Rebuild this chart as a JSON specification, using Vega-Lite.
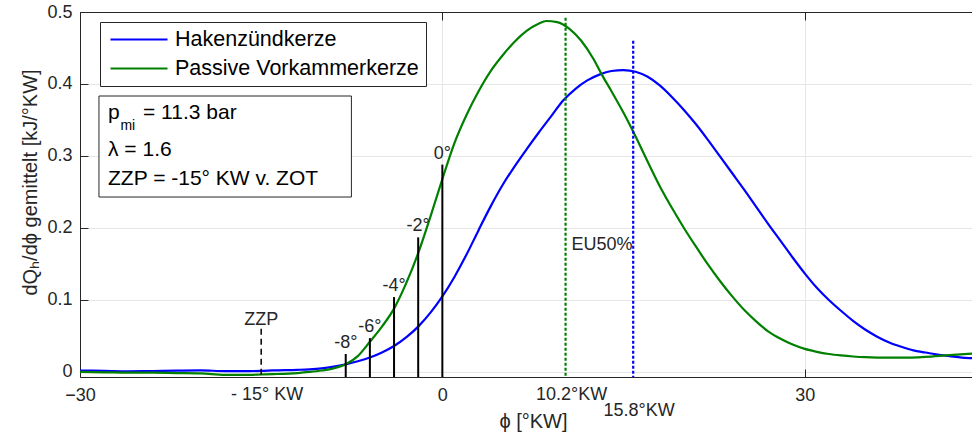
{
  "$schema": "https://vega.github.io/schema/vega-lite/v6.json",
  "width": 892,
  "height": 365,
  "autosize": {"type": "none"},
  "padding": {"left": 80, "top": 12, "right": 0, "bottom": 59},
  "background": "white",
  "config": {
    "font": "Liberation Sans",
    "view": {"stroke": null},
    "axis": {
      "domainColor": "#262626",
      "domainWidth": 1,
      "tickColor": "#262626",
      "tickSize": -8,
      "labelColor": "#262626",
      "labelFontSize": 18,
      "titleColor": "#262626",
      "titleFontSize": 20,
      "titleFontWeight": "normal",
      "gridColor": "#e6e6e6",
      "gridWidth": 1
    },
    "legend": {
      "orient": "none",
      "legendX": 20,
      "legendY": 10,
      "direction": "vertical",
      "strokeColor": "#262626",
      "fillColor": "white",
      "padding": 7,
      "cornerRadius": 0,
      "symbolType": "stroke",
      "symbolSize": 3249,
      "symbolStrokeWidth": 2.2,
      "symbolOffset": 2,
      "clipHeight": 21,
      "labelFontSize": 21.5,
      "labelColor": "black",
      "labelOffset": 6,
      "labelLimit": 400,
      "rowPadding": 7
    }
  },
  "datasets": {
    "curves": [
      {"series": "Hakenzündkerze", "phi": -30, "dq": 0.002},
      {"series": "Hakenzündkerze", "phi": -28, "dq": 0.0015},
      {"series": "Hakenzündkerze", "phi": -26, "dq": 0.001},
      {"series": "Hakenzündkerze", "phi": -24, "dq": 0.0012},
      {"series": "Hakenzündkerze", "phi": -22, "dq": 0.0018},
      {"series": "Hakenzündkerze", "phi": -20, "dq": 0.0022},
      {"series": "Hakenzündkerze", "phi": -18, "dq": 0.0012},
      {"series": "Hakenzündkerze", "phi": -16, "dq": 0.0012},
      {"series": "Hakenzündkerze", "phi": -15, "dq": 0.0015},
      {"series": "Hakenzündkerze", "phi": -14, "dq": 0.0022},
      {"series": "Hakenzündkerze", "phi": -12, "dq": 0.003},
      {"series": "Hakenzündkerze", "phi": -11, "dq": 0.0037},
      {"series": "Hakenzündkerze", "phi": -10, "dq": 0.005},
      {"series": "Hakenzündkerze", "phi": -9, "dq": 0.0073},
      {"series": "Hakenzündkerze", "phi": -8, "dq": 0.0106},
      {"series": "Hakenzündkerze", "phi": -7, "dq": 0.0148},
      {"series": "Hakenzündkerze", "phi": -6, "dq": 0.02},
      {"series": "Hakenzündkerze", "phi": -5, "dq": 0.027},
      {"series": "Hakenzündkerze", "phi": -4, "dq": 0.036},
      {"series": "Hakenzündkerze", "phi": -3, "dq": 0.048},
      {"series": "Hakenzündkerze", "phi": -2, "dq": 0.063},
      {"series": "Hakenzündkerze", "phi": -1, "dq": 0.082},
      {"series": "Hakenzündkerze", "phi": 0, "dq": 0.105},
      {"series": "Hakenzündkerze", "phi": 1, "dq": 0.132},
      {"series": "Hakenzündkerze", "phi": 2, "dq": 0.163},
      {"series": "Hakenzündkerze", "phi": 3, "dq": 0.197},
      {"series": "Hakenzündkerze", "phi": 4, "dq": 0.23},
      {"series": "Hakenzündkerze", "phi": 5, "dq": 0.26},
      {"series": "Hakenzündkerze", "phi": 6, "dq": 0.286},
      {"series": "Hakenzündkerze", "phi": 7, "dq": 0.31},
      {"series": "Hakenzündkerze", "phi": 8, "dq": 0.333},
      {"series": "Hakenzündkerze", "phi": 9, "dq": 0.355},
      {"series": "Hakenzündkerze", "phi": 10, "dq": 0.377},
      {"series": "Hakenzündkerze", "phi": 11, "dq": 0.393},
      {"series": "Hakenzündkerze", "phi": 12, "dq": 0.405},
      {"series": "Hakenzündkerze", "phi": 13, "dq": 0.413},
      {"series": "Hakenzündkerze", "phi": 14, "dq": 0.418},
      {"series": "Hakenzündkerze", "phi": 15, "dq": 0.4194},
      {"series": "Hakenzündkerze", "phi": 16, "dq": 0.417},
      {"series": "Hakenzündkerze", "phi": 17, "dq": 0.41},
      {"series": "Hakenzündkerze", "phi": 18, "dq": 0.398},
      {"series": "Hakenzündkerze", "phi": 19, "dq": 0.382},
      {"series": "Hakenzündkerze", "phi": 20, "dq": 0.364},
      {"series": "Hakenzündkerze", "phi": 21, "dq": 0.344},
      {"series": "Hakenzündkerze", "phi": 22, "dq": 0.322},
      {"series": "Hakenzündkerze", "phi": 23, "dq": 0.299},
      {"series": "Hakenzündkerze", "phi": 24, "dq": 0.276},
      {"series": "Hakenzündkerze", "phi": 25, "dq": 0.253},
      {"series": "Hakenzündkerze", "phi": 26, "dq": 0.229},
      {"series": "Hakenzündkerze", "phi": 27, "dq": 0.205},
      {"series": "Hakenzündkerze", "phi": 28, "dq": 0.182},
      {"series": "Hakenzündkerze", "phi": 29, "dq": 0.159},
      {"series": "Hakenzündkerze", "phi": 30, "dq": 0.137},
      {"series": "Hakenzündkerze", "phi": 31, "dq": 0.117},
      {"series": "Hakenzündkerze", "phi": 32, "dq": 0.1},
      {"series": "Hakenzündkerze", "phi": 33, "dq": 0.085},
      {"series": "Hakenzündkerze", "phi": 34, "dq": 0.071},
      {"series": "Hakenzündkerze", "phi": 35, "dq": 0.059},
      {"series": "Hakenzündkerze", "phi": 36, "dq": 0.049},
      {"series": "Hakenzündkerze", "phi": 37, "dq": 0.041},
      {"series": "Hakenzündkerze", "phi": 38, "dq": 0.035},
      {"series": "Hakenzündkerze", "phi": 39, "dq": 0.03},
      {"series": "Hakenzündkerze", "phi": 40, "dq": 0.027},
      {"series": "Hakenzündkerze", "phi": 41, "dq": 0.024},
      {"series": "Hakenzündkerze", "phi": 42, "dq": 0.022},
      {"series": "Hakenzündkerze", "phi": 43, "dq": 0.02},
      {"series": "Hakenzündkerze", "phi": 44, "dq": 0.019},
      {"series": "Hakenzündkerze", "phi": 45, "dq": 0.018},
      {"series": "Passive Vorkammerkerze", "phi": -30, "dq": 0.0},
      {"series": "Passive Vorkammerkerze", "phi": -28, "dq": -0.0005},
      {"series": "Passive Vorkammerkerze", "phi": -26, "dq": -0.001},
      {"series": "Passive Vorkammerkerze", "phi": -24, "dq": -0.001},
      {"series": "Passive Vorkammerkerze", "phi": -22, "dq": -0.0015},
      {"series": "Passive Vorkammerkerze", "phi": -20, "dq": -0.002},
      {"series": "Passive Vorkammerkerze", "phi": -18, "dq": -0.004},
      {"series": "Passive Vorkammerkerze", "phi": -16, "dq": -0.004},
      {"series": "Passive Vorkammerkerze", "phi": -15, "dq": -0.0035},
      {"series": "Passive Vorkammerkerze", "phi": -14, "dq": -0.003},
      {"series": "Passive Vorkammerkerze", "phi": -12, "dq": -0.0015},
      {"series": "Passive Vorkammerkerze", "phi": -11, "dq": 0.0},
      {"series": "Passive Vorkammerkerze", "phi": -10, "dq": 0.002},
      {"series": "Passive Vorkammerkerze", "phi": -9, "dq": 0.005},
      {"series": "Passive Vorkammerkerze", "phi": -8, "dq": 0.0106},
      {"series": "Passive Vorkammerkerze", "phi": -7, "dq": 0.022},
      {"series": "Passive Vorkammerkerze", "phi": -6, "dq": 0.042},
      {"series": "Passive Vorkammerkerze", "phi": -5, "dq": 0.063},
      {"series": "Passive Vorkammerkerze", "phi": -4, "dq": 0.088},
      {"series": "Passive Vorkammerkerze", "phi": -3, "dq": 0.123},
      {"series": "Passive Vorkammerkerze", "phi": -2, "dq": 0.165},
      {"series": "Passive Vorkammerkerze", "phi": -1, "dq": 0.215},
      {"series": "Passive Vorkammerkerze", "phi": 0, "dq": 0.268},
      {"series": "Passive Vorkammerkerze", "phi": 1, "dq": 0.318},
      {"series": "Passive Vorkammerkerze", "phi": 2, "dq": 0.357},
      {"series": "Passive Vorkammerkerze", "phi": 3, "dq": 0.39},
      {"series": "Passive Vorkammerkerze", "phi": 4, "dq": 0.418},
      {"series": "Passive Vorkammerkerze", "phi": 5, "dq": 0.44},
      {"series": "Passive Vorkammerkerze", "phi": 6, "dq": 0.459},
      {"series": "Passive Vorkammerkerze", "phi": 7, "dq": 0.474},
      {"series": "Passive Vorkammerkerze", "phi": 8, "dq": 0.484},
      {"series": "Passive Vorkammerkerze", "phi": 8.6, "dq": 0.4875},
      {"series": "Passive Vorkammerkerze", "phi": 9.5, "dq": 0.486},
      {"series": "Passive Vorkammerkerze", "phi": 10.5, "dq": 0.477},
      {"series": "Passive Vorkammerkerze", "phi": 11.5, "dq": 0.46},
      {"series": "Passive Vorkammerkerze", "phi": 12.5, "dq": 0.435},
      {"series": "Passive Vorkammerkerze", "phi": 13.2, "dq": 0.413},
      {"series": "Passive Vorkammerkerze", "phi": 14, "dq": 0.39},
      {"series": "Passive Vorkammerkerze", "phi": 15, "dq": 0.36},
      {"series": "Passive Vorkammerkerze", "phi": 16, "dq": 0.327},
      {"series": "Passive Vorkammerkerze", "phi": 17, "dq": 0.292},
      {"series": "Passive Vorkammerkerze", "phi": 18, "dq": 0.258},
      {"series": "Passive Vorkammerkerze", "phi": 19, "dq": 0.228},
      {"series": "Passive Vorkammerkerze", "phi": 20, "dq": 0.2},
      {"series": "Passive Vorkammerkerze", "phi": 21, "dq": 0.174},
      {"series": "Passive Vorkammerkerze", "phi": 22, "dq": 0.149},
      {"series": "Passive Vorkammerkerze", "phi": 23, "dq": 0.126},
      {"series": "Passive Vorkammerkerze", "phi": 24, "dq": 0.105},
      {"series": "Passive Vorkammerkerze", "phi": 25, "dq": 0.086},
      {"series": "Passive Vorkammerkerze", "phi": 26, "dq": 0.07},
      {"series": "Passive Vorkammerkerze", "phi": 27, "dq": 0.056},
      {"series": "Passive Vorkammerkerze", "phi": 28, "dq": 0.046},
      {"series": "Passive Vorkammerkerze", "phi": 29, "dq": 0.038},
      {"series": "Passive Vorkammerkerze", "phi": 30, "dq": 0.032},
      {"series": "Passive Vorkammerkerze", "phi": 31, "dq": 0.028},
      {"series": "Passive Vorkammerkerze", "phi": 32, "dq": 0.025},
      {"series": "Passive Vorkammerkerze", "phi": 33, "dq": 0.023},
      {"series": "Passive Vorkammerkerze", "phi": 34, "dq": 0.0215},
      {"series": "Passive Vorkammerkerze", "phi": 35, "dq": 0.0205},
      {"series": "Passive Vorkammerkerze", "phi": 36, "dq": 0.02},
      {"series": "Passive Vorkammerkerze", "phi": 38, "dq": 0.0198},
      {"series": "Passive Vorkammerkerze", "phi": 40, "dq": 0.021},
      {"series": "Passive Vorkammerkerze", "phi": 42, "dq": 0.0235},
      {"series": "Passive Vorkammerkerze", "phi": 44, "dq": 0.0255},
      {"series": "Passive Vorkammerkerze", "phi": 45, "dq": 0.0265}
    ],
    "stems": [
      {"label": "-8°", "phi": -8, "top": 0.025},
      {"label": "-6°", "phi": -6, "top": 0.047},
      {"label": "-4°", "phi": -4, "top": 0.104},
      {"label": "-2°", "phi": -2, "top": 0.187},
      {"label": "0°", "phi": 0, "top": 0.288}
    ],
    "eu50": [
      {"series": "Passive Vorkammerkerze", "phi": 10.2, "top": 0.492, "label": "10.2°KW"},
      {"series": "Hakenzündkerze", "phi": 15.8, "top": 0.46, "label": "15.8°KW"}
    ]
  },
  "layer": [
    {
      "data": {"name": "curves"},
      "mark": {"type": "line", "strokeWidth": 2.2, "interpolate": "monotone", "clip": true},
      "encoding": {
        "x": {
          "field": "phi",
          "type": "quantitative",
          "scale": {"domain": [-30, 43.85], "nice": false, "zero": false},
          "axis": {
            "orient": "bottom",
            "values": [-30, 0, 30],
            "format": "d",
            "grid": true,
            "labelFlush": false,
            "labelPadding": 17,
            "title": "ϕ [°KW]",
            "titleX": 453,
            "titleY": 44,
            "titleBaseline": "middle"
          }
        },
        "y": {
          "field": "dq",
          "type": "quantitative",
          "scale": {"domain": [-0.007, 0.5], "nice": false, "zero": false},
          "axis": {
            "values": [0, 0.1, 0.2, 0.3, 0.4, 0.5],
            "format": ".1~f",
            "grid": true,
            "labelPadding": 16,
            "title": "dQₕ/dϕ gemittelt [kJ/°KW]",
            "titleX": -50,
            "titleY": 170,
            "titleBaseline": "middle"
          }
        },
        "color": {
          "field": "series",
          "type": "nominal",
          "scale": {"domain": ["Hakenzündkerze", "Passive Vorkammerkerze"], "range": ["#0000ff", "#008000"]},
          "legend": {"title": null}
        }
      }
    },
    {
      "data": {"name": "stems"},
      "mark": {"type": "rule", "color": "black", "strokeWidth": 2},
      "encoding": {
        "x": {
          "field": "phi",
          "type": "quantitative",
          "axis": {"orient": "top", "values": [-30, 0, 30], "labels": false, "grid": false, "title": null}
        },
        "y": {"field": "top", "type": "quantitative"},
        "y2": {"value": "height"}
      }
    },
    {
      "data": {"name": "stems"},
      "mark": {"type": "text", "fontSize": 18, "color": "#262626", "align": "center", "baseline": "alphabetic", "dy": -6},
      "encoding": {
        "x": {"field": "phi", "type": "quantitative", "axis": null},
        "y": {"field": "top", "type": "quantitative"},
        "text": {"field": "label"}
      }
    },
    {
      "data": {"values": [{"t": "ZZP"}]},
      "mark": {"type": "rule", "color": "black", "strokeWidth": 1.5, "strokeDash": [6, 4]},
      "encoding": {
        "x": {"datum": -15, "type": "quantitative", "axis": null},
        "y": {"datum": 0.06, "type": "quantitative"},
        "y2": {"value": "height"}
      }
    },
    {
      "data": {"values": [{"t": "ZZP"}]},
      "mark": {"type": "text", "fontSize": 18, "color": "#262626", "align": "center", "baseline": "alphabetic", "dy": -4},
      "encoding": {
        "x": {"datum": -15, "type": "quantitative", "axis": null},
        "y": {"datum": 0.06, "type": "quantitative"},
        "text": {"field": "t"}
      }
    },
    {
      "data": {"name": "eu50"},
      "transform": [{"filter": "datum.series === 'Passive Vorkammerkerze'"}],
      "mark": {"type": "rule", "color": "#008000", "strokeWidth": 2.2, "strokeDash": [3, 2]},
      "encoding": {
        "x": {"field": "phi", "type": "quantitative", "axis": null},
        "y": {"field": "top", "type": "quantitative"},
        "y2": {"value": "height"}
      }
    },
    {
      "data": {"name": "eu50"},
      "transform": [{"filter": "datum.series === 'Hakenzündkerze'"}],
      "mark": {"type": "rule", "color": "#0000ff", "strokeWidth": 2.2, "strokeDash": [3, 2]},
      "encoding": {
        "x": {"field": "phi", "type": "quantitative", "axis": null},
        "y": {"field": "top", "type": "quantitative"},
        "y2": {"value": "height"}
      }
    },
    {
      "data": {"values": [{"t": "EU50%"}]},
      "mark": {"type": "text", "fontSize": 18, "color": "#262626", "align": "left", "baseline": "middle", "dx": 6},
      "encoding": {
        "x": {"datum": 10.2, "type": "quantitative", "axis": null},
        "y": {"datum": 0.176, "type": "quantitative"},
        "text": {"field": "t"}
      }
    },
    {
      "data": {"values": [{"t": "- 15° KW", "phi": -15}, {"t": "10.2°KW", "phi": 10.2}]},
      "mark": {"type": "text", "fontSize": 18, "color": "#262626", "align": "center", "baseline": "middle", "dx": 6, "dy": 18},
      "encoding": {
        "x": {"field": "phi", "type": "quantitative", "axis": null},
        "y": {"value": "height"},
        "text": {"field": "t"}
      }
    },
    {
      "data": {"values": [{"t": "15.8°KW", "phi": 15.8}]},
      "mark": {"type": "text", "fontSize": 18, "color": "#262626", "align": "center", "baseline": "middle", "dx": 6, "dy": 34},
      "encoding": {
        "x": {"field": "phi", "type": "quantitative", "axis": null},
        "y": {"value": "height"},
        "text": {"field": "t"}
      }
    },
    {
      "data": {"values": [{"t": "box"}]},
      "mark": {"type": "rect", "fill": "white", "stroke": "#262626", "strokeWidth": 1},
      "encoding": {
        "x": {"datum": -28.43, "type": "quantitative", "axis": null},
        "x2": {"datum": -7.53},
        "y": {"datum": 0.3833, "type": "quantitative"},
        "y2": {"datum": 0.243}
      }
    },
    {
      "data": {"values": [{"t": "p"}]},
      "mark": {"type": "text", "fontSize": 21, "color": "black", "align": "left", "baseline": "middle"},
      "encoding": {
        "x": {"datum": -27.68, "type": "quantitative", "axis": null},
        "y": {"datum": 0.3603, "type": "quantitative"},
        "text": {"field": "t"}
      }
    },
    {
      "data": {"values": [{"t": "mi"}]},
      "mark": {"type": "text", "fontSize": 14, "color": "black", "align": "left", "baseline": "middle", "dx": 12.4, "dy": 13},
      "encoding": {
        "x": {"datum": -27.68, "type": "quantitative", "axis": null},
        "y": {"datum": 0.3603, "type": "quantitative"},
        "text": {"field": "t"}
      }
    },
    {
      "data": {"values": [{"t": "= 11.3 bar"}]},
      "mark": {"type": "text", "fontSize": 21, "color": "black", "align": "left", "baseline": "middle", "dx": 35},
      "encoding": {
        "x": {"datum": -27.68, "type": "quantitative", "axis": null},
        "y": {"datum": 0.3603, "type": "quantitative"},
        "text": {"field": "t"}
      }
    },
    {
      "data": {"values": [{"t": "λ = 1.6"}]},
      "mark": {"type": "text", "fontSize": 21, "color": "black", "align": "left", "baseline": "middle"},
      "encoding": {
        "x": {"datum": -27.68, "type": "quantitative", "axis": null},
        "y": {"datum": 0.3082, "type": "quantitative"},
        "text": {"field": "t"}
      }
    },
    {
      "data": {"values": [{"t": "ZZP = -15° KW v. ZOT"}]},
      "mark": {"type": "text", "fontSize": 21, "color": "black", "align": "left", "baseline": "middle"},
      "encoding": {
        "x": {"datum": -27.68, "type": "quantitative", "axis": null},
        "y": {"datum": 0.2687, "type": "quantitative"},
        "text": {"field": "t"}
      }
    }
  ]
}
